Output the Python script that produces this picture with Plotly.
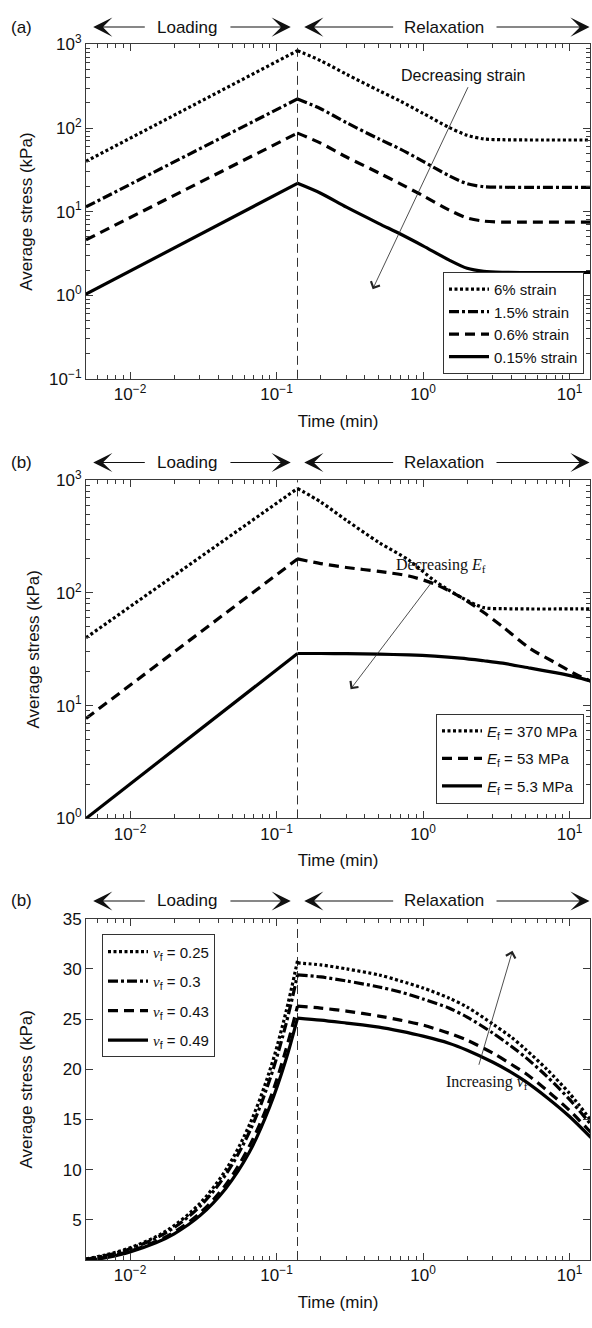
import math
import plotly.graph_objects as go

# ---------------- data ----------------
T_MIN, T_MAX, T_PEAK = 0.005, 13.8, 0.139

LOAD_T = [0.005, 0.139]
RELAX_T = [0.139, 0.2, 0.3, 0.5, 0.7, 1.0, 1.5, 2.0, 2.6, 3.5, 5.0, 14.0]

# panel (a): strain levels
A_NAMES = ["6% strain", "1.5% strain", "0.6% strain", "0.15% strain"]
A_LOAD = [[40, 843], [11.4, 223], [4.6, 87], [1.03, 21.8]]
A_RELAX = [
    [843, 640, 440, 280, 210, 150, 102, 82, 74, 72.5, 72, 72],
    [223, 170, 116, 74, 56, 40, 27, 21.6, 19.9, 19.6, 19.5, 19.5],
    [87, 66, 45, 29, 21.5, 15.5, 10.5, 8.4, 7.7, 7.5, 7.5, 7.5],
    [21.8, 16.6, 11.3, 7.2, 5.4, 3.9, 2.65, 2.1, 1.93, 1.88, 1.87, 1.87],
]

# panel (b): fibre modulus
B_NAMES = ["<i>E</i><sub>f</sub> = 370 MPa", "<i>E</i><sub>f</sub> = 53 MPa", "<i>E</i><sub>f</sub> = 5.3 MPa"]
B_LOAD = [[40, 843], [7.7, 200], [1.0, 29]]
B_RELAX_T = [0.139, 0.2, 0.3, 0.5, 0.8, 1.2, 1.8, 2.6, 3.5, 5.4, 8.0, 11.0, 14.0]
B_RELAX = [
    [843, 640, 440, 280, 195, 128, 92, 74, 72.5, 72, 72, 72, 72],
    [200, 182, 168, 155, 141, 120, 92, 67, 50, 32, 24, 19, 16.5],
    [29, 29, 28.9, 28.6, 28.2, 27.5, 26.4, 25.0, 23.8, 21.5, 19.6, 18.0, 16.5],
]

# panel (c): fibre Poisson ratio
NU = "<span style='font-family:Liberation Serif'><i>ν</i></span><sub>f</sub>"
C_NAMES = [NU + " = 0.25", NU + " = 0.3", NU + " = 0.43", NU + " = 0.49"]
C_LOAD_T = [0.005, 0.007, 0.01, 0.015, 0.02, 0.03, 0.045, 0.065, 0.09, 0.115, 0.139]
C_LOAD = [
    [1.11, 1.55, 2.22, 3.32, 4.43, 6.65, 9.97, 14.4, 19.9, 25.5, 30.8],
    [1.06, 1.48, 2.12, 3.17, 4.23, 6.35, 9.52, 13.7, 19.0, 24.3, 29.4],
    [0.95, 1.32, 1.89, 2.84, 3.78, 5.68, 8.51, 12.3, 17.0, 21.8, 26.3],
    [0.90, 1.26, 1.81, 2.71, 3.61, 5.42, 8.13, 11.7, 16.3, 20.8, 25.1],
]
C_RELAX_T = [0.139, 0.2, 0.3, 0.5, 0.7, 1.0, 1.5, 2.0, 3.0, 4.0, 5.0, 7.0, 10.0, 14.0]
C_RELAX = [
    [30.6, 30.4, 30.0, 29.4, 28.8, 28.1, 27.1, 26.2, 24.5, 23.2, 22.0, 20.0, 17.6, 14.9],
    [29.4, 29.2, 28.8, 28.2, 27.7, 27.0, 26.1, 25.2, 23.6, 22.3, 21.2, 19.3, 17.0, 14.5],
    [26.3, 26.1, 25.8, 25.3, 24.9, 24.4, 23.6, 22.9, 21.6, 20.5, 19.6, 17.9, 15.9, 13.7],
    [25.1, 24.9, 24.6, 24.2, 23.8, 23.3, 22.6, 21.9, 20.7, 19.7, 18.8, 17.2, 15.3, 13.2],
]

X_TICKS = [0.01, 0.1, 1, 10]
X_TICKTEXT = ["10<sup>−2</sup>", "10<sup>−1</sup>", "10<sup>0</sup>", "10<sup>1</sup>"]
A_YTICKS = [0.1, 1, 10, 100, 1000]
A_YTICKTEXT = ["10<sup>−1</sup>", "10<sup>0</sup>", "10<sup>1</sup>", "10<sup>2</sup>", "10<sup>3</sup>"]
B_YTICKS = [1, 10, 100, 1000]
B_YTICKTEXT = ["10<sup>0</sup>", "10<sup>1</sup>", "10<sup>2</sup>", "10<sup>3</sup>"]
C_YTICKS = [5, 10, 15, 20, 25, 30, 35]

# ---------------- styles ----------------
DASHES4 = ["3px,2.5px", "10px,3px,3px,3px", "10px,6px", "solid"]
DASHES3 = ["3px,2.5px", "10px,6px", "solid"]
LW = 3.2
FONT = "Liberation Sans, Arial, Helvetica, sans-serif"
SERIF = "Liberation Serif, Times New Roman, serif"
H = 1328
AX_COLOR = "#3a3a3a"
TXT = "#111"

fig = go.Figure()


def add_series(t_load, v_load, t_rel, v_rel, name, dash, xa, ya, legend, group, shape):
    line = dict(color="black", width=LW, dash=dash)
    fig.add_trace(go.Scatter(x=t_load, y=v_load, mode="lines", line=dict(line, shape=shape),
                             name=name, legend=legend, legendgroup=group, showlegend=True,
                             xaxis=xa, yaxis=ya, hoverinfo="skip"))
    fig.add_trace(go.Scatter(x=t_rel, y=v_rel, mode="lines", line=dict(line, shape="spline", smoothing=0.8),
                             name=name, legend=legend, legendgroup=group, showlegend=False,
                             xaxis=xa, yaxis=ya, hoverinfo="skip"))


for i, nm in enumerate(A_NAMES):
    add_series(LOAD_T, A_LOAD[i], RELAX_T, A_RELAX[i], nm, DASHES4[i], "x", "y", "legend", f"a{i}", "linear")
for i, nm in enumerate(B_NAMES):
    add_series(LOAD_T, B_LOAD[i], B_RELAX_T, B_RELAX[i], nm, DASHES3[i], "x2", "y2", "legend2", f"b{i}", "linear")
for i, nm in enumerate(C_NAMES):
    add_series(C_LOAD_T, C_LOAD[i], C_RELAX_T, C_RELAX[i], nm, DASHES4[i], "x3", "y3", "legend3", f"c{i}", "spline")

# vertical dashed line at end of loading
for xr in ["x", "x2", "x3"]:
    yr = "y" + xr[1:]
    fig.add_shape(type="line", xref=xr, yref=yr + " domain", x0=T_PEAK, x1=T_PEAK, y0=0, y1=1,
                  line=dict(color="#333", width=1, dash="9px,5px"), layer="below")


def dom(top, bottom):
    return [1 - bottom / H, 1 - top / H]


DOMS = [dom(33, 373), dom(476, 820), dom(922, 1269)]

xcommon = dict(type="log", range=[math.log10(T_MIN), math.log10(T_MAX)], showline=True, linecolor=AX_COLOR,
               linewidth=1, mirror="ticks", ticks="inside", ticklen=7, tickcolor=AX_COLOR, showgrid=False,
               zeroline=False, tickvals=X_TICKS, ticktext=X_TICKTEXT, tickfont=dict(size=17, color=TXT),
               minor=dict(ticks="inside", ticklen=4, tickcolor=AX_COLOR, showgrid=False,
                          tickvals=[k * 10 ** e for e in range(-3, 2) for k in range(2, 10)]),
               title=dict(text="Time (min)", font=dict(size=17, color=TXT), standoff=11))
ycommon = dict(showline=True, linecolor=AX_COLOR, linewidth=1, mirror="ticks", ticks="inside", ticklen=7,
               tickcolor=AX_COLOR, showgrid=False, zeroline=False, tickfont=dict(size=17, color=TXT))
ylogminor = [k * 10 ** e for e in range(-2, 4) for k in range(2, 10)]
ytitle = dict(text="Average stress (kPa)", font=dict(size=17, color=TXT))

layout_axes = {}
for ax in ["", "2", "3"]:
    layout_axes["xaxis" + ax] = dict(xcommon, domain=[0, 1], anchor="y" + ax)
layout_axes["yaxis"] = dict(ycommon, type="log", domain=DOMS[0], anchor="x", range=[-1, 3],
                            tickvals=A_YTICKS, ticktext=A_YTICKTEXT,
                            minor=dict(ticks="inside", ticklen=4, tickcolor=AX_COLOR, showgrid=False, tickvals=ylogminor),
                            title=dict(ytitle, standoff=12))
layout_axes["yaxis2"] = dict(ycommon, type="log", domain=DOMS[1], anchor="x2", range=[0, 3],
                             tickvals=B_YTICKS, ticktext=B_YTICKTEXT,
                             minor=dict(ticks="inside", ticklen=4, tickcolor=AX_COLOR, showgrid=False, tickvals=ylogminor),
                             title=dict(ytitle, standoff=12))
layout_axes["yaxis3"] = dict(ycommon, type="linear", domain=DOMS[2], anchor="x3", range=[1, 35],
                             tickvals=C_YTICKS, title=dict(ytitle, standoff=25))

annotations = []
HEAD = [("x", "y", "(a)"), ("x2", "y2", "(b)"), ("x3", "y3", "(b)")]
for xr, yr, lab in HEAD:
    ydom = yr + " domain"
    yy = 1.052
    annotations.append(dict(xref="paper", yref=ydom, x=-0.127, y=yy, text=lab, showarrow=False,
                            font=dict(size=17, color=TXT), xanchor="center", yanchor="middle"))
    annotations.append(dict(xref=xr, yref=ydom, x=math.log10(0.0245), y=yy, text="Loading", showarrow=False,
                            font=dict(size=17, color=TXT), xanchor="center", yanchor="middle"))
    annotations.append(dict(xref=xr, yref=ydom, x=math.log10(1.39), y=yy, text="Relaxation", showarrow=False,
                            font=dict(size=17, color=TXT), xanchor="center", yanchor="middle"))
    for tip, tail in [(0.0056, 0.0129), (0.125, 0.0473), (0.1545, 0.64), (13.7, 3.1)]:
        annotations.append(dict(xref=xr, yref=ydom, x=math.log10(tip), y=yy, axref=xr, ax=math.log10(tail),
                                ayref="pixel", ay=0, text="", showarrow=True, arrowhead=3, arrowsize=2.9,
                                arrowwidth=1.1, arrowcolor=TXT))

annotations += [
    dict(xref="x", yref="y", x=math.log10(1.9), y=math.log10(420), text="Decreasing strain", showarrow=False,
         font=dict(size=16, color=TXT, family=FONT)),
    dict(xref="x", yref="y", x=math.log10(0.453), y=math.log10(1.18), axref="x", ayref="y",
         ax=math.log10(2.05), ay=math.log10(321), text="", showarrow=True, arrowhead=4, arrowsize=2.4,
         arrowwidth=0.8, arrowcolor="#222"),
    dict(xref="x2", yref="y2", x=math.log10(1.32), y=math.log10(175),
         text="Decreasing <i>E</i><sub>f</sub>", showarrow=False, font=dict(size=16, color=TXT, family=SERIF)),
    dict(xref="x2", yref="y2", x=math.log10(0.32), y=math.log10(14), axref="x2", ayref="y2",
         ax=math.log10(1.16), ay=math.log10(127), text="", showarrow=True, arrowhead=4, arrowsize=2.4,
         arrowwidth=0.8, arrowcolor="#222"),
    dict(xref="x3", yref="y3", x=math.log10(2.75), y=18.7, text="Increasing <i>ν</i><sub>f</sub>",
         showarrow=False, font=dict(size=16, color=TXT, family=SERIF)),
    dict(xref="x3", yref="y3", x=math.log10(4.08), y=31.8, axref="x3", ayref="y3",
         ax=math.log10(2.39), ay=20.3, text="", showarrow=True, arrowhead=4, arrowsize=2.4,
         arrowwidth=0.8, arrowcolor="#222"),
]

leg = dict(bgcolor="white", bordercolor="#333", borderwidth=1, font=dict(size=15, color=TXT),
           tracegroupgap=3, itemwidth=40)
fig.update_layout(
    width=592, height=H, margin=dict(l=86, r=2, t=0, b=0),
    paper_bgcolor="white", plot_bgcolor="white",
    font=dict(family=FONT, size=17, color=TXT),
    legend=dict(leg, x=(584 - 86) / 504, xanchor="right", y=1 - 368 / H, yanchor="bottom", tracegroupgap=0),
    legend2=dict(leg, x=(584 - 86) / 504, xanchor="right", y=1 - 805 / H, yanchor="bottom", tracegroupgap=5),
    legend3=dict(leg, x=(102 - 86) / 504, xanchor="left", y=1 - 938 / H, yanchor="top", tracegroupgap=7),
    annotations=annotations,
    **layout_axes,
)

fig.write_html("out.html", config={"displayModeBar": False},
               post_script="document.body.style.margin='0px';document.body.style.overflow='hidden';")
